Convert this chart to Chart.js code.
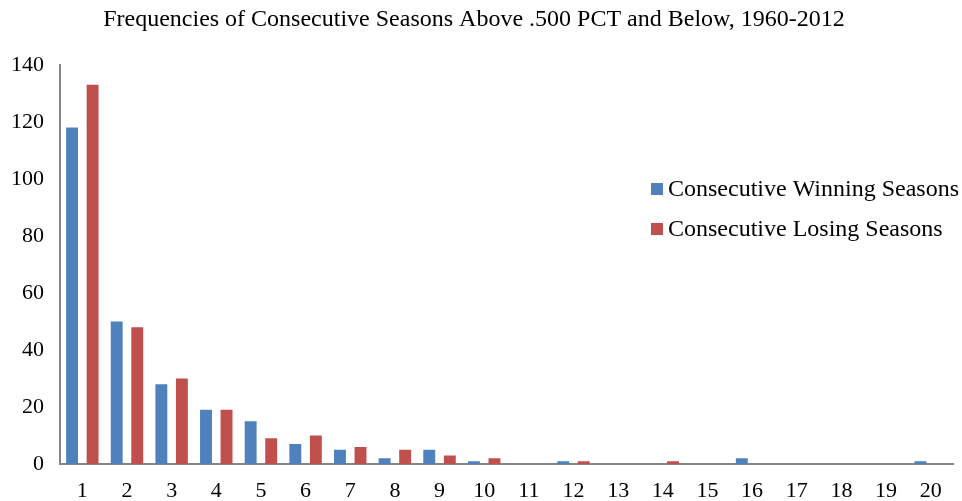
<!DOCTYPE html>
<html>
<head>
<meta charset="utf-8">
<script src="https://cdn.jsdelivr.net/npm/chart.js@4/dist/chart.umd.min.js"></script>
<style>
  html, body { margin: 0; padding: 0; background: #fff; }
  #wrap { width: 962px; height: 501px; }
</style>
</head>
<body>
<div id="wrap"><canvas id="myChart"></canvas></div>
<script>
// seasons in a row
var seasons = ['1','2','3','4','5','6','7','8','9','10','11','12','13','14','15','16','17','18','19','20'];
var winning = [118, 50, 28, 19, 15, 7, 5, 2, 5, 1, 0, 1, 0, 0, 0, 2, 0, 0, 0, 1];
var losing  = [133, 48, 30, 19, 9, 10, 6, 5, 3, 2, 0, 1, 0, 1, 0, 0, 0, 0, 0, 0];
var yTicks = [0, 20, 40, 60, 80, 100, 120, 140];

var serif = '"Liberation Serif", "Times New Roman", serif';

// legend drawn inside the plot, like the excel one
var insideLegend = {
  id: 'insideLegend',
  afterDraw: function(chart) {
    var ctx = chart.ctx;
    var items = chart.data.datasets;
    ctx.save();
    ctx.font = '24px ' + serif;
    ctx.textBaseline = 'middle';
    for (var i = 0; i < items.length; i++) {
      var y = 189 + i * 40;
      ctx.fillStyle = items[i].backgroundColor;
      ctx.fillRect(651, y - 6, 12, 12);
      ctx.fillStyle = '#000';
      ctx.fillText(items[i].label, 668, y + 1);
    }
    ctx.restore();
  }
};

var ctx = document.getElementById('myChart');
var myChart = new Chart(ctx, {
  type: 'bar',
  data: {
    labels: seasons,
    datasets: [
      { label: 'Consecutive Winning Seasons', data: winning, backgroundColor: '#4F81BD' },
      { label: 'Consecutive Losing Seasons', data: losing, backgroundColor: '#C0504D' }
    ]
  },
  options: {
    responsive: true,
    maintainAspectRatio: false,
    animation: false,
    layout: { padding: { top: 0, right: 9, bottom: 0, left: -5 } },
    datasets: { bar: { categoryPercentage: 0.92, barPercentage: 0.58 } },
    plugins: {
      legend: { display: false },
      tooltip: { enabled: false },
      title: {
        display: true,
        text: 'Frequencies of Consecutive Seasons Above .500 PCT and Below, 1960-2012',
        color: '#000',
        font: { family: serif, size: 24, weight: 'normal' },
        padding: { top: 5, bottom: 31 }
      }
    },
    scales: {
      x: {
        grid: { display: false, drawTicks: false },
        border: { color: '#868686', width: 2 },
        ticks: { color: '#000', font: { family: serif, size: 22, lineHeight: 1 }, padding: 16, maxRotation: 0, autoSkip: false },
        afterFit: function(axis) { axis.height = 37; }
      },
      y: {
        min: 0,
        max: 140,
        afterBuildTicks: function(axis) {
          axis.ticks = yTicks.map(function(v) { return { value: v }; });
        },
        grid: { display: false, drawTicks: false },
        border: { color: '#868686', width: 2 },
        ticks: { color: '#000', font: { family: serif, size: 22 }, padding: 16 }
      }
    }
  },
  plugins: [insideLegend]
});
</script>
</body>
</html>
